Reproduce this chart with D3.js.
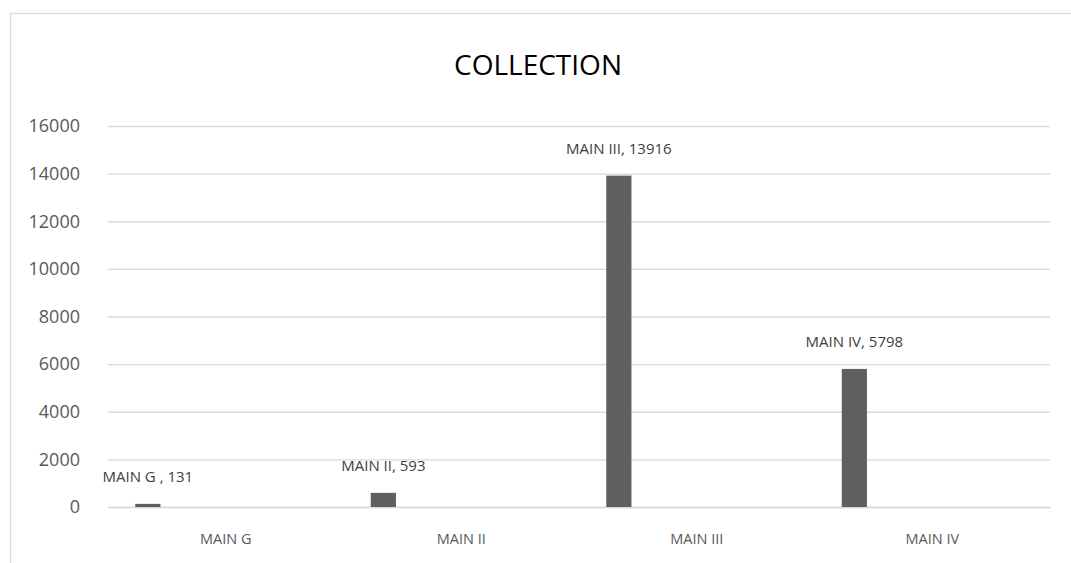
<!DOCTYPE html>
<html>
<head>
<meta charset="utf-8">
<script src="https://cdn.jsdelivr.net/npm/d3@7"></script>
<style>
  html, body { margin: 0; padding: 0; background: #fff; }
  svg { display: block; }
  text { font-family: "Open Sans", "Noto Sans", sans-serif; }
</style>
</head>
<body>
<svg id="chart" width="1071" height="563"></svg>
<script>
// Collection totals per main unit
const categories = ["MAIN G", "MAIN II", "MAIN III", "MAIN IV"];
const dataLabels = ["MAIN G , 131", "MAIN II, 593", "MAIN III, 13916", "MAIN IV, 5798"];
const values = [131, 593, 13916, 5798];
const yTicks = [0, 2000, 4000, 6000, 8000, 10000, 12000, 14000, 16000];
const title = "COLLECTION";

const svg = d3.select("#chart");
const W = 1071, H = 563;
const plot = { left: 108, right: 1050, top: 126, bottom: 507 };

// chart frame
svg.append("rect")
  .attr("x", 10.5).attr("y", 13.5)
  .attr("width", W + 20).attr("height", H + 20)
  .attr("fill", "#fff")
  .attr("stroke", "#d9d9d9").attr("stroke-width", 1.3);

const x = d3.scaleBand().domain(categories).range([plot.left, plot.right]).padding(0);
// slots inside each category; only the first slot carries a value
const xs = d3.scaleBand().domain(["s1", "s2", "s3", "s4", "s5", "s6", "s7"])
  .range([0, x.bandwidth()]).paddingOuter(1.05).paddingInner(0.03);
const y = d3.scaleLinear().domain([0, 16000]).range([plot.bottom, plot.top]);

// gridlines + value axis labels
const yAxis = d3.axisLeft(y).tickValues(yTicks).tickFormat(d3.format("d"))
  .tickSize(-(plot.right - plot.left)).tickPadding(28);
const gy = svg.append("g").attr("transform", `translate(${plot.left},0)`).call(yAxis);
gy.select(".domain").remove();
gy.selectAll(".tick line").attr("stroke", "#d9d9d9").attr("stroke-width", 1.3);
gy.selectAll(".tick text")
  .attr("fill", "#595959")
  .attr("font-size", 18)
  .attr("font-family", "'Open Sans', 'Noto Sans', sans-serif");

// category axis
const xAxis = d3.axisBottom(x).tickSize(0).tickPadding(27);
const gx = svg.append("g").attr("transform", `translate(0,${plot.bottom})`).call(xAxis);
gx.select(".domain").attr("stroke", "#d9d9d9").attr("stroke-width", 1.3);
gx.selectAll(".tick text")
  .attr("fill", "#595959")
  .attr("font-size", 14.5)
  .attr("font-family", "'Open Sans', 'Noto Sans', sans-serif");

const rows = categories.map((c, i) => ({ c, v: values[i], label: dataLabels[i] }));

// bars
svg.append("g").selectAll("rect").data(rows).join("rect")
  .attr("x", d => x(d.c) + xs("s1"))
  .attr("width", xs.bandwidth())
  .attr("y", d => y(d.v))
  .attr("height", d => y(0) - y(d.v))
  .attr("fill", "#5f5f5f");

// data labels
svg.append("g").selectAll("text").data(rows).join("text")
  .attr("x", d => x(d.c) + xs("s1") + xs.bandwidth() / 2)
  .attr("y", d => y(d.v) - 22)
  .attr("text-anchor", "middle")
  .attr("font-size", 15)
  .attr("fill", "#404040")
  .text(d => d.label);

// title
svg.append("text")
  .attr("x", 538).attr("y", 75)
  .attr("text-anchor", "middle")
  .attr("font-size", 28)
  .attr("fill", "#000")
  .text(title);
</script>
</body>
</html>
